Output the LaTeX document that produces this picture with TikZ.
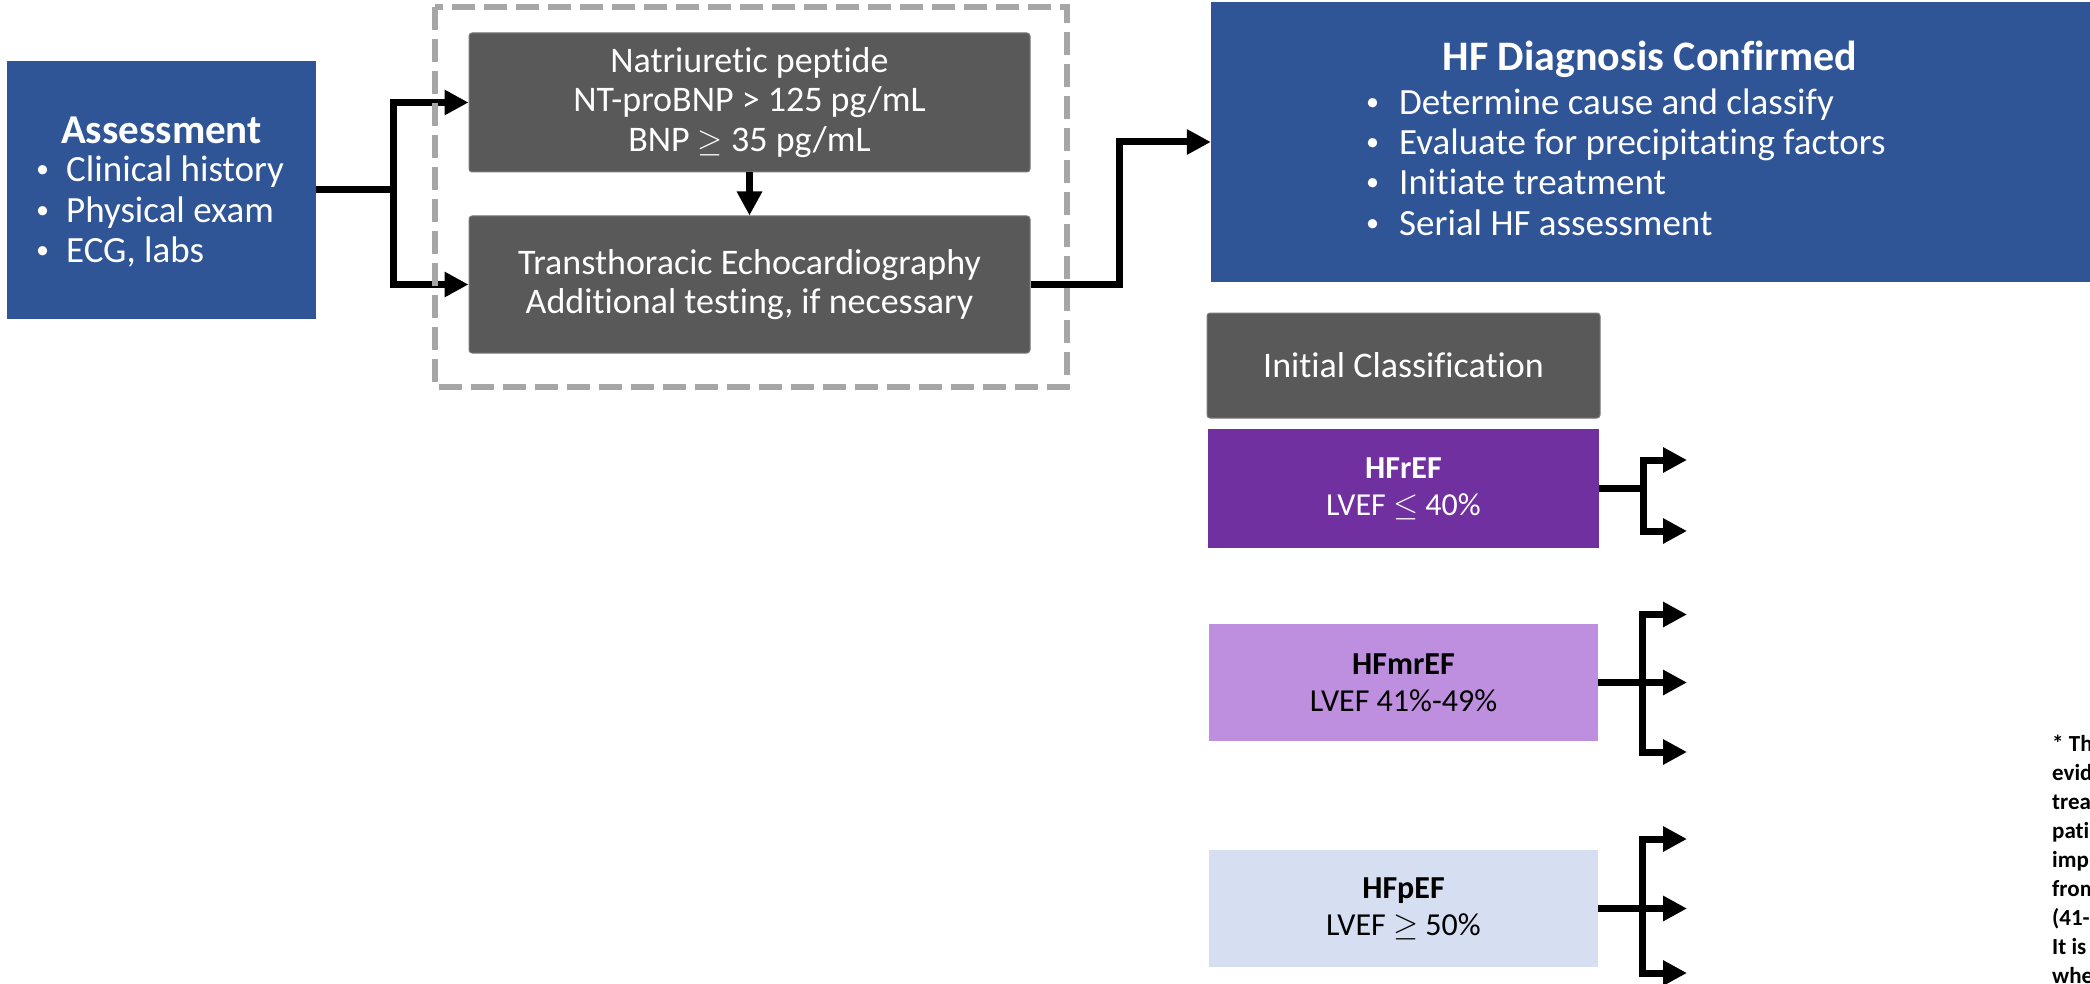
\documentclass[tikz,border=0pt]{standalone}
\usepackage{fontspec}
\usepackage{graphicx}
\setmainfont{Carlito}[Ligatures=NoCommon]
\usetikzlibrary{arrows.meta}

\definecolor{hfblue}{HTML}{2F5597}
\definecolor{boxgray}{HTML}{595959}
\definecolor{boxedge}{HTML}{7A7A7A}
\definecolor{hfpurple}{HTML}{7030A0}
\definecolor{hflilac}{HTML}{BE8FDE}
\definecolor{hfpale}{HTML}{D6DEF1}
\definecolor{dashgray}{HTML}{A6A6A6}

% small bullet followed by its text, the bullet sitting in a box of given width
\newcommand{\bl}[2]{\makebox[#1][l]{\raisebox{4pt}{\fontsize{26}{26}\selectfont •}}#2}
% enlarged relation signs with a straight underline
\newcommand{\lessq}{\scalebox{1.3}{$\leq$}}
\newcommand{\moreq}{\scalebox{1.3}{$\geq$}}

\tikzset{
  box/.style={rectangle, inner sep=0pt, align=center, text=white},
  bluebox/.style={box, fill=hfblue},
  graybox/.style={box, fill=boxgray, draw=boxedge, line width=1pt, rounded corners=3pt},
  classbox/.style={box, font=\fontsize{32}{37}\selectfont},
  txt/.style={inner sep=0pt, text=white},
  fnote/.style={anchor=base west, inner sep=0pt, text=black, font=\bfseries\fontsize{23}{29}\selectfont},
  link/.style={draw=black, line width=7pt},
  arr/.style={link, -{Triangle[length=24pt, width=24pt]}},
  dashbox/.style={draw=dashgray, line width=6pt, dash pattern=on 23pt off 9pt},
}

\begin{document}
\begin{tikzpicture}[x=1pt, y=-1pt]
\useasboundingbox (0,0) rectangle (2090,984);
\fill[white] (0,0) rectangle (2090,984);

% ---- assessment ----
\node[bluebox, minimum width=309pt, minimum height=258pt] (assess) at (161.5,190) {};
\node[txt, font=\bfseries\fontsize{41}{44}\selectfont] (assessT) at (161.5,130) {Assessment};
\node[txt, align=left, anchor=west, font=\fontsize{37}{40.5}\selectfont] (assessL) at (36,212)
  {\bl{30pt}{Clinical history}\\\bl{30pt}{Physical exam}\\\bl{30pt}{ECG, labs}};

% ---- testing steps ----
\node[graybox, minimum width=561pt, minimum height=139pt, font=\fontsize{36}{39.5}\selectfont] (np) at (749.5,102.5)
  {Natriuretic peptide\\NT-proBNP > 125 pg/mL\\BNP \moreq{} 35 pg/mL};
\node[graybox, minimum width=561pt, minimum height=137pt, font=\fontsize{36}{39}\selectfont] (echo) at (749.5,284.5)
  {Transthoracic Echocardiography\\Additional testing, if necessary};

% ---- diagnosis confirmed ----
\node[bluebox, minimum width=880pt, minimum height=280pt] (hfdx) at (1651,142) {};
\node[txt, font=\bfseries\fontsize{42}{46}\selectfont] (hfdxT) at (1650,59) {HF Diagnosis Confirmed};
\node[txt, align=left, anchor=west, font=\fontsize{37}{40.3}\selectfont] (hfdxL) at (1366,162)
  {\bl{33pt}{Determine cause and classify}\\\bl{33pt}{Evaluate for precipitating factors}\\
   \bl{33pt}{Initiate treatment}\\\bl{33pt}{Serial HF assessment}};

% ---- classification ----
\node[graybox, minimum width=393pt, minimum height=105pt, font=\fontsize{36}{40}\selectfont] (init) at (1403.5,365.5)
  {Initial Classification};
\node[classbox, fill=hfpurple, minimum width=391pt, minimum height=119pt] (hfr) at (1403.5,488.5)
  {\textbf{HFrEF}\\LVEF \lessq{} 40\%};
\node[classbox, fill=hflilac, text=black, minimum width=389pt, minimum height=117pt] (hfmr) at (1403.5,682.5)
  {\textbf{HFmrEF}\\LVEF 41\%-49\%};
\node[classbox, fill=hfpale, text=black, minimum width=389pt, minimum height=117pt] (hfp) at (1403.5,908.5)
  {\textbf{HFpEF}\\LVEF \moreq{} 50\%};

% free ends of the classification branches
\coordinate (r1) at (1687,460);
\coordinate (r2) at (1687,531);
\coordinate (m1) at (1687,614.5);
\coordinate (m2) at (1687,682.5);
\coordinate (m3) at (1687,752);
\coordinate (p1) at (1687,839);
\coordinate (p2) at (1687,908.5);
\coordinate (p3) at (1687,973);

% ---- connectors ----
\draw[link] (assess.east) -- ++(77,0) coordinate (j0);
\draw[arr] (j0) |- (np.west);
\draw[arr] (j0) |- (echo.west);
\draw[arr] (np.south) -- (echo.north);
\draw[arr] (echo.east) -- ++(89,0) |- (hfdx.west);

\draw[link] (hfr.east) -- ++(44,0) coordinate (jr);
\draw[arr] (jr) |- (r1);
\draw[arr] (jr) |- (r2);

\draw[link] (hfmr.east) -- ++(44,0) coordinate (jm);
\draw[arr] (jm) |- (m1);
\draw[arr] (jm) -- (m2);
\draw[arr] (jm) |- (m3);

\draw[link] (hfp.east) -- ++(44,0) coordinate (jp);
\draw[arr] (jp) |- (p1);
\draw[arr] (jp) -- (p2);
\draw[arr] (jp) |- (p3);

% ---- dashed frame round the testing steps ----
\draw[dashbox] (435,7) rectangle (1067,387);

% ---- footnote running off the right edge ----
\foreach \w [count=\i from 0] in {{* The},evidence,treatment,patients,improved,from,{(41-49\%)},{It is},when}
  \node[fnote] (fn\i) at (2052,751+29*\i) {\w};
\end{tikzpicture}
\end{document}
